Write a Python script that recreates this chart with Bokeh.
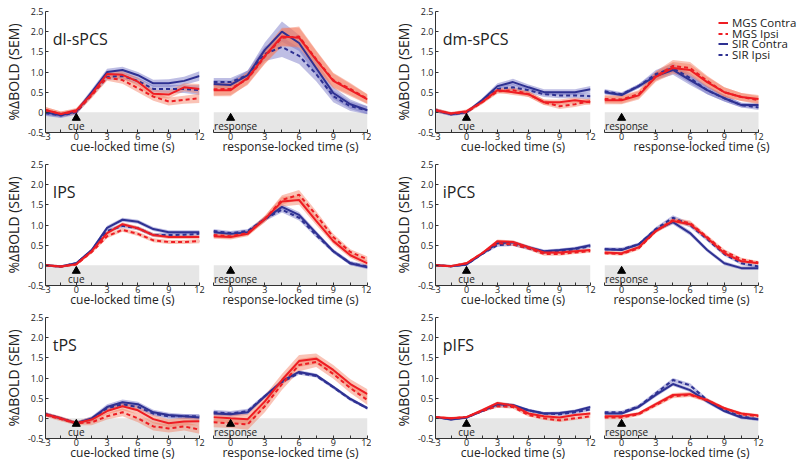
from bokeh.plotting import figure
from bokeh.layouts import row, column
from bokeh.models import FixedTicker, BoxAnnotation, Legend, LegendItem, PrintfTickFormatter
from bokeh.core.properties import value
from bokeh.embed import file_html
from bokeh.resources import INLINE

# ---------------- data ----------------
t_cue = [-3, -1.5, 0, 1.5, 3, 4.5, 6, 7.5, 9, 10.5, 12]
t_resp = [-1.5, 0, 1.5, 3, 4.5, 6, 7.5, 9, 10.5, 12]
x_ticks_cue = [-3, 0, 3, 6, 9, 12]
x_ticks_resp = [0, 3, 6, 9, 12]
x_minor = [-1.5, 1.5, 4.5, 7.5, 10.5]
y_ticks = [-0.5, 0, 0.5, 1.0, 1.5, 2.0, 2.5]
series_names = ["MGS Contra", "MGS Ipsi", "SIR Contra", "SIR Ipsi"]
event_time = [0]
event_names = ["cue", "response"]

# dl-sPCS
dl_cue_mgs_c = [0.06, -0.04, 0.05, 0.45, 0.95, 0.93, 0.76, 0.46, 0.44, 0.62, 0.58]
dl_cue_mgs_i = [0.06, -0.04, 0.02, 0.42, 0.86, 0.80, 0.60, 0.39, 0.27, 0.31, 0.35]
dl_cue_sir_c = [0.00, -0.07, 0.02, 0.50, 1.00, 1.05, 0.92, 0.72, 0.72, 0.78, 0.90]
dl_cue_sir_i = [-0.02, -0.08, 0.00, 0.45, 0.88, 0.90, 0.78, 0.58, 0.58, 0.58, 0.55]
dl_cue_mgs_sem = [0.07, 0.06, 0.06, 0.07, 0.08, 0.09, 0.10, 0.10, 0.10, 0.10, 0.12]
dl_cue_sir_sem = [0.07, 0.06, 0.06, 0.07, 0.08, 0.08, 0.08, 0.09, 0.10, 0.10, 0.12]
dl_resp_mgs_c = [0.55, 0.55, 0.85, 1.40, 1.88, 1.85, 1.30, 0.78, 0.55, 0.32]
dl_resp_mgs_i = [0.57, 0.58, 0.83, 1.38, 1.85, 1.88, 1.32, 0.80, 0.58, 0.33]
dl_resp_sir_c = [0.70, 0.68, 0.92, 1.55, 2.00, 1.72, 1.10, 0.48, 0.20, 0.05]
dl_resp_sir_i = [0.75, 0.75, 0.92, 1.45, 1.62, 1.40, 0.95, 0.40, 0.15, 0.05]
dl_resp_mgs_sem = [0.15, 0.15, 0.15, 0.18, 0.22, 0.25, 0.22, 0.18, 0.15, 0.12]
dl_resp_sir_sem = [0.10, 0.10, 0.12, 0.18, 0.25, 0.20, 0.18, 0.15, 0.12, 0.10]

# dm-sPCS
dm_cue_mgs_c = [0.05, -0.03, 0.03, 0.25, 0.55, 0.50, 0.45, 0.25, 0.25, 0.30, 0.25]
dm_cue_mgs_i = [0.05, -0.03, 0.00, 0.25, 0.52, 0.55, 0.45, 0.25, 0.15, 0.20, 0.28]
dm_cue_sir_c = [0.05, -0.05, 0.00, 0.30, 0.65, 0.75, 0.62, 0.50, 0.50, 0.50, 0.57]
dm_cue_sir_i = [0.05, -0.05, 0.00, 0.28, 0.58, 0.62, 0.55, 0.45, 0.42, 0.42, 0.40]
dm_cue_mgs_sem = [0.05, 0.04, 0.04, 0.05, 0.06, 0.07, 0.07, 0.07, 0.07, 0.07, 0.07]
dm_cue_sir_sem = [0.05, 0.04, 0.04, 0.05, 0.07, 0.08, 0.07, 0.07, 0.07, 0.07, 0.08]
dm_resp_mgs_c = [0.30, 0.30, 0.42, 0.88, 1.10, 1.05, 0.75, 0.50, 0.38, 0.33]
dm_resp_mgs_i = [0.33, 0.32, 0.45, 0.90, 1.15, 1.10, 0.78, 0.50, 0.38, 0.30]
dm_resp_sir_c = [0.50, 0.43, 0.65, 0.90, 1.05, 0.80, 0.55, 0.35, 0.18, 0.18]
dm_resp_sir_i = [0.52, 0.45, 0.65, 0.95, 1.10, 0.85, 0.55, 0.35, 0.18, 0.12]
dm_resp_mgs_sem = [0.10, 0.10, 0.10, 0.12, 0.15, 0.15, 0.13, 0.12, 0.10, 0.10]
dm_resp_sir_sem = [0.06, 0.05, 0.05, 0.10, 0.12, 0.12, 0.10, 0.08, 0.06, 0.06]

# IPS
ips_cue_mgs_c = [0.00, -0.03, 0.03, 0.35, 0.80, 1.02, 0.92, 0.75, 0.70, 0.70, 0.70]
ips_cue_mgs_i = [0.00, -0.03, 0.02, 0.33, 0.72, 0.88, 0.78, 0.62, 0.58, 0.58, 0.60]
ips_cue_sir_c = [0.00, -0.03, 0.05, 0.38, 0.93, 1.13, 1.08, 0.90, 0.82, 0.82, 0.82]
ips_cue_sir_i = [0.00, -0.03, 0.05, 0.37, 0.85, 0.98, 0.92, 0.75, 0.75, 0.76, 0.78]
ips_cue_mgs_sem = [0.03, 0.03, 0.03, 0.04, 0.05, 0.05, 0.05, 0.05, 0.05, 0.05, 0.05]
ips_cue_sir_sem = [0.03, 0.03, 0.03, 0.04, 0.05, 0.05, 0.05, 0.05, 0.05, 0.05, 0.05]
ips_resp_mgs_c = [0.72, 0.70, 0.78, 1.15, 1.58, 1.62, 1.10, 0.60, 0.25, 0.05]
ips_resp_mgs_i = [0.75, 0.72, 0.80, 1.15, 1.62, 1.75, 1.25, 0.70, 0.33, 0.15]
ips_resp_sir_c = [0.82, 0.78, 0.82, 1.15, 1.45, 1.25, 0.80, 0.35, 0.05, -0.05]
ips_resp_sir_i = [0.85, 0.80, 0.85, 1.15, 1.38, 1.18, 0.75, 0.35, 0.05, -0.03]
ips_resp_mgs_sem = [0.06, 0.06, 0.06, 0.08, 0.12, 0.12, 0.10, 0.08, 0.07, 0.07]
ips_resp_sir_sem = [0.05, 0.05, 0.05, 0.06, 0.07, 0.07, 0.06, 0.05, 0.05, 0.05]

# iPCS
ipcs_cue_mgs_c = [0.00, -0.02, 0.05, 0.30, 0.60, 0.58, 0.45, 0.32, 0.32, 0.35, 0.38]
ipcs_cue_mgs_i = [0.00, -0.02, 0.05, 0.30, 0.55, 0.52, 0.42, 0.28, 0.28, 0.32, 0.35]
ipcs_cue_sir_c = [0.00, -0.02, 0.02, 0.28, 0.55, 0.57, 0.45, 0.35, 0.38, 0.42, 0.50]
ipcs_cue_sir_i = [0.00, -0.02, 0.02, 0.28, 0.50, 0.52, 0.42, 0.32, 0.35, 0.40, 0.47]
ipcs_cue_mgs_sem = [0.03, 0.03, 0.03, 0.03, 0.04, 0.04, 0.04, 0.04, 0.04, 0.04, 0.04]
ipcs_cue_sir_sem = [0.03, 0.03, 0.03, 0.03, 0.04, 0.04, 0.04, 0.04, 0.04, 0.04, 0.04]
ipcs_resp_mgs_c = [0.32, 0.30, 0.45, 0.85, 1.10, 1.02, 0.68, 0.30, 0.10, 0.05]
ipcs_resp_mgs_i = [0.30, 0.28, 0.42, 0.85, 1.12, 1.05, 0.70, 0.35, 0.15, 0.07]
ipcs_resp_sir_c = [0.40, 0.38, 0.52, 0.88, 1.07, 0.80, 0.38, 0.05, -0.07, -0.07]
ipcs_resp_sir_i = [0.40, 0.40, 0.52, 0.90, 1.18, 1.00, 0.65, 0.28, 0.05, -0.03]
ipcs_resp_mgs_sem = [0.04, 0.04, 0.04, 0.05, 0.06, 0.06, 0.05, 0.05, 0.04, 0.04]
ipcs_resp_sir_sem = [0.04, 0.04, 0.04, 0.05, 0.06, 0.06, 0.05, 0.05, 0.04, 0.04]

# tPS
tps_cue_mgs_c = [0.10, 0.00, -0.12, -0.03, 0.18, 0.30, 0.20, -0.02, -0.12, -0.08, -0.07]
tps_cue_mgs_i = [0.08, -0.02, -0.12, -0.10, 0.05, 0.15, 0.00, -0.20, -0.25, -0.20, -0.28]
tps_cue_sir_c = [0.10, 0.00, -0.12, 0.00, 0.28, 0.40, 0.35, 0.15, 0.08, 0.05, 0.02]
tps_cue_sir_i = [0.10, 0.00, -0.12, -0.02, 0.25, 0.35, 0.28, 0.12, 0.05, 0.05, 0.05]
tps_cue_mgs_sem = [0.05, 0.05, 0.05, 0.07, 0.08, 0.10, 0.10, 0.10, 0.10, 0.10, 0.10]
tps_cue_sir_sem = [0.05, 0.04, 0.04, 0.05, 0.07, 0.07, 0.06, 0.06, 0.06, 0.06, 0.06]
tps_resp_mgs_c = [0.03, 0.00, -0.02, 0.42, 0.95, 1.42, 1.48, 1.20, 0.85, 0.60]
tps_resp_mgs_i = [-0.10, -0.12, -0.15, 0.30, 0.85, 1.32, 1.40, 1.10, 0.75, 0.45]
tps_resp_sir_c = [0.12, 0.10, 0.15, 0.55, 0.92, 1.15, 1.07, 0.78, 0.48, 0.25]
tps_resp_sir_i = [0.15, 0.12, 0.18, 0.55, 0.90, 1.12, 1.05, 0.77, 0.47, 0.25]
tps_resp_mgs_sem = [0.12, 0.12, 0.13, 0.15, 0.15, 0.15, 0.13, 0.12, 0.12, 0.12]
tps_resp_sir_sem = [0.06, 0.06, 0.06, 0.05, 0.05, 0.04, 0.04, 0.04, 0.04, 0.04]

# pIFS
pifs_cue_mgs_c = [0.03, 0.00, 0.03, 0.20, 0.38, 0.32, 0.12, 0.05, 0.02, 0.08, 0.12]
pifs_cue_mgs_i = [0.03, 0.00, 0.03, 0.18, 0.30, 0.28, 0.08, 0.00, -0.05, 0.00, 0.05]
pifs_cue_sir_c = [0.03, -0.03, 0.02, 0.18, 0.35, 0.33, 0.20, 0.12, 0.13, 0.18, 0.28]
pifs_cue_sir_i = [0.03, -0.02, 0.02, 0.18, 0.32, 0.30, 0.20, 0.12, 0.10, 0.15, 0.22]
pifs_cue_mgs_sem = [0.03, 0.03, 0.03, 0.03, 0.04, 0.04, 0.04, 0.04, 0.04, 0.04, 0.04]
pifs_cue_sir_sem = [0.03, 0.03, 0.03, 0.03, 0.04, 0.04, 0.04, 0.04, 0.04, 0.04, 0.04]
pifs_resp_mgs_c = [0.05, 0.05, 0.12, 0.35, 0.58, 0.60, 0.45, 0.25, 0.12, 0.07]
pifs_resp_mgs_i = [0.02, 0.02, 0.10, 0.33, 0.55, 0.58, 0.45, 0.25, 0.10, 0.05]
pifs_resp_sir_c = [0.12, 0.12, 0.28, 0.58, 0.85, 0.70, 0.42, 0.18, 0.02, -0.02]
pifs_resp_sir_i = [0.15, 0.15, 0.30, 0.62, 0.95, 0.82, 0.45, 0.20, 0.05, -0.03]
pifs_resp_mgs_sem = [0.04, 0.04, 0.04, 0.05, 0.05, 0.05, 0.05, 0.04, 0.04, 0.04]
pifs_resp_sir_sem = [0.04, 0.04, 0.04, 0.05, 0.05, 0.05, 0.05, 0.04, 0.04, 0.04]

# ---------------- style ----------------
FONT = "Open Sans"
TXT = "#222222"
RED = "#ee1d23"
BLUE = "#2e3192"
RED_BAND = "#f47b5e"
BLUE_BAND = "#6f6fc4"
GRAY = "#e6e6e6"
FRAME_H = 121
BASE_W = 154
LEGEND_Y = [102, 91, 81, 70]


def panel(kind, title, data, bl, br, fw, top, legend=False):
    mgs_c, mgs_i, sir_c, sir_i, mgs_sem, sir_sem = data
    t = t_cue if kind == "cue" else t_resp
    span = t[-1] - t[0]
    # a wider frame (legend room) keeps the same time scale
    x_end = t[0] + span * fw / (BASE_W if kind == "resp" else fw)
    p = figure(x_range=(t[0], x_end), y_range=(-0.5, 2.5),
               frame_width=fw, frame_height=FRAME_H,
               min_border_left=bl, min_border_right=br,
               min_border_top=top, min_border_bottom=27,
               output_backend="svg", toolbar_location=None)
    p.grid.visible = False
    p.outline_line_color = None
    p.add_layout(BoxAnnotation(top=0, bottom=-0.5, left=t[0], right=t[-1],
                               fill_color=GRAY, fill_alpha=1.0,
                               line_color=None, level="underlay"))
    for mean, sem, band in [(sir_c, sir_sem, BLUE_BAND), (sir_i, sir_sem, BLUE_BAND),
                            (mgs_c, mgs_sem, RED_BAND), (mgs_i, mgs_sem, RED_BAND)]:
        p.varea(x=t, y1=[m - s for m, s in zip(mean, sem)],
                y2=[m + s for m, s in zip(mean, sem)],
                fill_color=band, fill_alpha=0.45)
    r_sc = p.line(t, sir_c, line_color=BLUE, line_width=2)
    r_si = p.line(t, sir_i, line_color=BLUE, line_width=2, line_dash="4 3")
    r_mc = p.line(t, mgs_c, line_color=RED, line_width=2)
    r_mi = p.line(t, mgs_i, line_color=RED, line_width=2, line_dash="4 3")

    # event marker
    p.scatter(x=event_time, y=[-0.14], marker="triangle", size=8, color="black")
    if kind == "cue":
        p.text(x=event_time, y=[-0.34], text=[event_names[0]], text_align="center",
               text_baseline="middle", text_font=value(FONT), text_font_size="10px",
               text_color=TXT)
        p.text(x=[-2.3], y=[1.82], text=[title], text_align="left",
               text_baseline="middle", text_font=value(FONT), text_font_size="16px",
               text_color=TXT)
    else:
        p.text(x=[t[0] + 0.05], y=[-0.34], text=[event_names[1]], text_align="left",
               text_baseline="middle", text_font=value(FONT), text_font_size="10px",
               text_color=TXT)

    xa = p.xaxis[0]
    xa.ticker = FixedTicker(ticks=x_ticks_cue if kind == "cue" else x_ticks_resp,
                            minor_ticks=x_minor)
    xa.bounds = (t[0], t[-1])
    xa.axis_label = "cue-locked time (s)" if kind == "cue" else "response-locked time (s)"
    ya = p.yaxis[0]
    for ax in (xa, ya):
        ax.axis_line_color = "#333333"
        ax.major_tick_line_color = "#333333"
        ax.minor_tick_line_color = "#333333"
        ax.major_tick_in = 3
        ax.major_tick_out = 0
        ax.minor_tick_in = 3
        ax.minor_tick_out = 0
        ax.major_label_text_font = FONT
        ax.major_label_text_font_size = "9px"
        ax.major_label_text_color = TXT
        ax.axis_label_text_font = FONT
        ax.axis_label_text_font_style = "normal"
        ax.axis_label_text_color = TXT
    xa.major_label_standoff = 0
    xa.axis_label_standoff = -5
    xa.axis_label_text_font_size = "12px"
    ya.major_label_standoff = 2
    ya.axis_label_standoff = 2
    ya.axis_label_text_font_size = "14px"
    ya.minor_tick_line_color = None
    ya.ticker = FixedTicker(ticks=y_ticks)
    ya.formatter = PrintfTickFormatter(format="%.1f")
    ya.major_label_overrides = {0: "0"}
    ya.axis_label = "%\u0394BOLD (SEM)"
    if kind != "cue":
        ya.visible = False

    if legend:
        # one single-entry legend per key, stacked tightly
        keyed = [r_mc, r_mi, r_sc, r_si]
        for k, (name, rend) in enumerate(zip(series_names, keyed)):
            lg = Legend(items=[LegendItem(label=name, renderers=[rend])],
                        location=(114, LEGEND_Y[k]), orientation="vertical",
                        label_text_font=FONT, label_text_font_size="11.5px",
                        label_text_color=TXT, label_height=11, glyph_height=11,
                        glyph_width=10, label_standoff=4, spacing=0, padding=0,
                        margin=0, border_line_color=None, background_fill_alpha=0)
            p.add_layout(lg)
    return p


regions = [
    [("dl-sPCS",
      (dl_cue_mgs_c, dl_cue_mgs_i, dl_cue_sir_c, dl_cue_sir_i, dl_cue_mgs_sem, dl_cue_sir_sem),
      (dl_resp_mgs_c, dl_resp_mgs_i, dl_resp_sir_c, dl_resp_sir_i, dl_resp_mgs_sem, dl_resp_sir_sem)),
     ("dm-sPCS",
      (dm_cue_mgs_c, dm_cue_mgs_i, dm_cue_sir_c, dm_cue_sir_i, dm_cue_mgs_sem, dm_cue_sir_sem),
      (dm_resp_mgs_c, dm_resp_mgs_i, dm_resp_sir_c, dm_resp_sir_i, dm_resp_mgs_sem, dm_resp_sir_sem))],
    [("IPS",
      (ips_cue_mgs_c, ips_cue_mgs_i, ips_cue_sir_c, ips_cue_sir_i, ips_cue_mgs_sem, ips_cue_sir_sem),
      (ips_resp_mgs_c, ips_resp_mgs_i, ips_resp_sir_c, ips_resp_sir_i, ips_resp_mgs_sem, ips_resp_sir_sem)),
     ("iPCS",
      (ipcs_cue_mgs_c, ipcs_cue_mgs_i, ipcs_cue_sir_c, ipcs_cue_sir_i, ipcs_cue_mgs_sem, ipcs_cue_sir_sem),
      (ipcs_resp_mgs_c, ipcs_resp_mgs_i, ipcs_resp_sir_c, ipcs_resp_sir_i, ipcs_resp_mgs_sem, ipcs_resp_sir_sem))],
    [("tPS",
      (tps_cue_mgs_c, tps_cue_mgs_i, tps_cue_sir_c, tps_cue_sir_i, tps_cue_mgs_sem, tps_cue_sir_sem),
      (tps_resp_mgs_c, tps_resp_mgs_i, tps_resp_sir_c, tps_resp_sir_i, tps_resp_mgs_sem, tps_resp_sir_sem)),
     ("pIFS",
      (pifs_cue_mgs_c, pifs_cue_mgs_i, pifs_cue_sir_c, pifs_cue_sir_i, pifs_cue_mgs_sem, pifs_cue_sir_sem),
      (pifs_resp_mgs_c, pifs_resp_mgs_i, pifs_resp_sir_c, pifs_resp_sir_i, pifs_resp_mgs_sem, pifs_resp_sir_sem))],
]

row_tops = [11, 5, 5]
rows = []
for ri, pair in enumerate(regions):
    (n1, c1, r1), (n2, c2, r2) = pair
    top = row_tops[ri]
    a = panel("cue", n1, c1, 37, 7, 154, top)
    b = panel("resp", n1, r1, 7, 4, 154, top)
    c = panel("cue", n2, c2, 64, 7, 155, top)
    if ri == 0:
        d = panel("resp", n2, r2, 7, 0, 194, top, legend=True)
    else:
        d = panel("resp", n2, r2, 7, 27, 154, top)
    rows.append(row(a, b, c, d, spacing=0))

layout = column(*rows, spacing=0)
open("out.html", "w").write(file_html(layout, INLINE))
